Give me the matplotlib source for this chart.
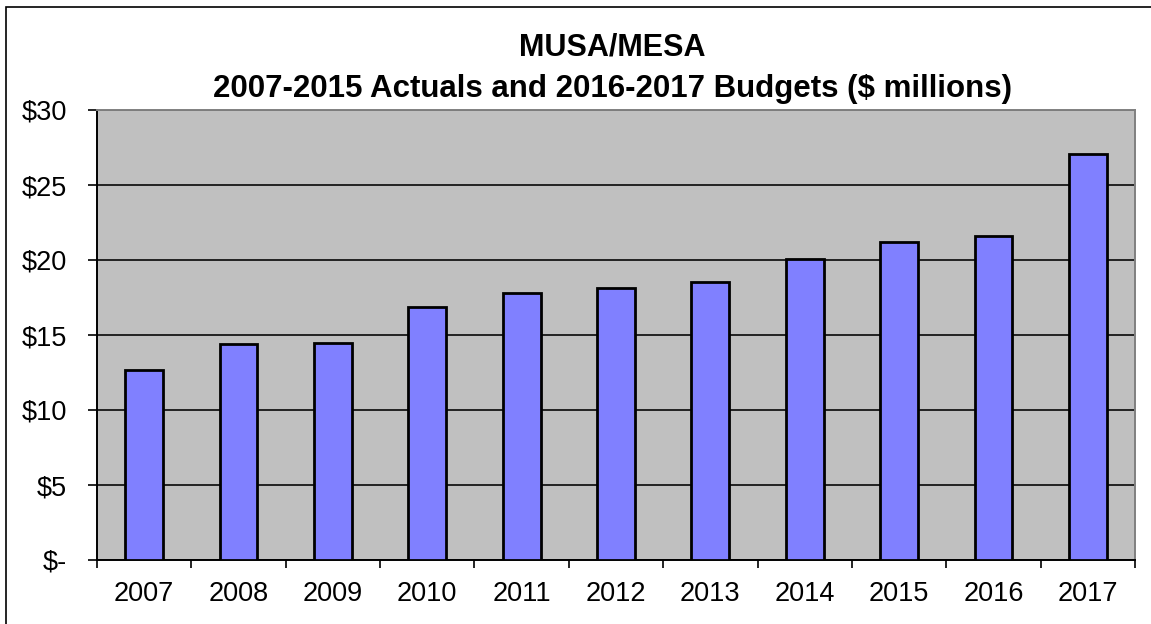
import numpy as np
import matplotlib.pyplot as plt
from matplotlib.patches import Rectangle

# values ($ millions)
years = ['2007', '2008', '2009', '2010', '2011', '2012',
         '2013', '2014', '2015', '2016', '2017']
spend = [12.7, 14.4, 14.5, 16.85, 17.8, 18.15, 18.55, 20.05, 21.2, 21.6, 27.1]
yticks = [0, 5, 10, 15, 20, 25, 30]
ylabels = ['$-', '$5', '$10', '$15', '$20', '$25', '$30']

plt.rcParams['font.family'] = ['Liberation Sans', 'DejaVu Sans']

fig = plt.figure(figsize=(11.51, 6.24), dpi=100)
fig.patch.set_facecolor('white')

# chart area border (only left and top visible in the picture)
fig.patches.append(Rectangle((6 / 1151, -0.1), 1.2, 1.1 - 7 / 624,
                             transform=fig.transFigure, fill=False,
                             edgecolor='black', lw=1.2))

ax = fig.add_axes([97 / 1151, 64 / 624, (1135 - 97) / 1151, 450 / 624])
ax.set_facecolor('#C0C0C0')

x = np.arange(len(years))
ax.bar(x, spend, width=0.4, color='#8080FF', edgecolor='black', lw=2, zorder=3)

ax.set_xlim(-0.5, len(years) - 0.5)
ax.set_ylim(0, 30)
ax.set_yticks(yticks)
ax.set_yticklabels(ylabels)
ax.yaxis.grid(True, color='#222222', lw=1.4, zorder=1)
ax.set_axisbelow(True)

# year labels centred on bars, ticks between categories
ax.set_xticks(x)
ax.set_xticklabels(years)
ax.set_xticks(np.arange(-0.5, len(years)), minor=True)
ax.tick_params(axis='x', which='major', length=0, pad=15, labelsize=19.5)
ax.tick_params(axis='x', which='minor', length=6, width=1.2, direction='out')
ax.tick_params(axis='y', length=6.5, width=1.2, direction='out', pad=15,
               labelsize=19.5)

for side in ['left', 'bottom']:
    ax.spines[side].set_color('black')
    ax.spines[side].set_linewidth(1.4)
for side in ['top', 'right']:
    ax.spines[side].set_color('#808080')
    ax.spines[side].set_linewidth(1.4)

cx = 0.5 * (205 + 1020) / 1151
fig.text(cx, 1 - 48 / 624, 'MUSA/MESA', ha='center',
         va='center', fontsize=22, fontweight='bold')
fig.text(cx, 1 - 89 / 624,
         '2007-2015 Actuals and 2016-2017 Budgets ($ millions)', ha='center',
         va='center', fontsize=22.5, fontweight='bold')

fig.savefig('out.png', dpi=100)
